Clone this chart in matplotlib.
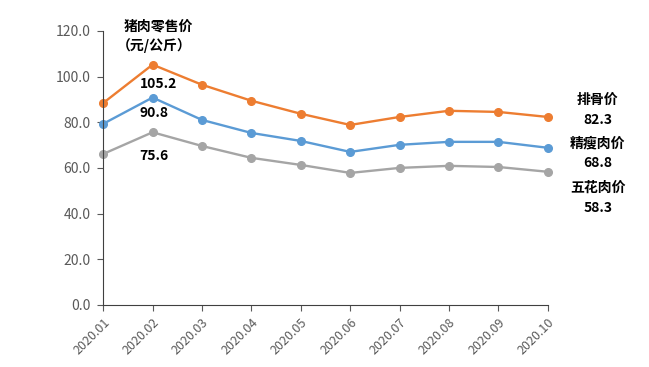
import matplotlib.pyplot as plt

plt.rcParams['font.family'] = ['Noto Sans CJK SC', 'DejaVu Sans']

months = ['2020.01', '2020.02', '2020.03', '2020.04', '2020.05',
          '2020.06', '2020.07', '2020.08', '2020.09', '2020.10']
paigu = [88.4, 105.2, 96.4, 89.4, 83.7, 78.8, 82.3, 85.0, 84.5, 82.3]
jingshou = [79.3, 90.8, 81.0, 75.3, 71.8, 67.0, 70.1, 71.4, 71.4, 68.8]
wuhua = [66.1, 75.6, 69.6, 64.4, 61.3, 57.8, 60.0, 60.9, 60.4, 58.3]

series = [('排骨价', paigu, '#ED7D31'),
          ('精瘦肉价', jingshou, '#5B9BD5'),
          ('五花肉价', wuhua, '#A5A5A5')]

fig = plt.figure(figsize=(6.49, 3.67), dpi=100)
ax = fig.add_axes([0.159, 0.169, 0.685, 0.747])

x = list(range(len(months)))
for name, vals, color in series:
    ax.plot(x, vals, color=color, lw=1.7, marker='o', ms=5.5, clip_on=False)

ax.set_xlim(0, len(months) - 1)
ax.set_ylim(0, 120)
ax.set_yticks(range(0, 121, 20))
ax.set_yticklabels(['%.1f' % v for v in range(0, 121, 20)])
ax.set_xticks(x)
ax.set_xticklabels(months, rotation=45, ha='right', rotation_mode='anchor')
ax.tick_params(colors='#595959', direction='out', length=4)
ax.tick_params(axis='y', labelsize=10, pad=5)
ax.tick_params(axis='x', labelsize=9, pad=4)
for s in ['top', 'right']:
    ax.spines[s].set_visible(False)
for s in ['left', 'bottom']:
    ax.spines[s].set_color('#404040')

kw = dict(textcoords='offset pixels', ha='center', va='center',
          fontsize=10, fontweight='bold', annotation_clip=False)

# peak labels (Feb)
ax.annotate('%.1f' % paigu[1], (1, paigu[1]), xytext=(6, -19), **kw)
ax.annotate('%.1f' % jingshou[1], (1, jingshou[1]), xytext=(1, -15), **kw)
ax.annotate('%.1f' % wuhua[1], (1, wuhua[1]), xytext=(1, -24), **kw)

# right side labels
last = len(months) - 1
ax.annotate('排骨价', (last, paigu[-1]), xytext=(50, 17), **kw)
ax.annotate('%.1f' % paigu[-1], (last, paigu[-1]), xytext=(50, -3), **kw)
ax.annotate('精瘦肉价', (last, jingshou[-1]), xytext=(50, 4), **kw)
ax.annotate('%.1f' % jingshou[-1], (last, jingshou[-1]), xytext=(50, -15), **kw)
ax.annotate('五花肉价', (last, wuhua[-1]), xytext=(50, -16), **kw)
ax.annotate('%.1f' % wuhua[-1], (last, wuhua[-1]), xytext=(50, -36), **kw)

fig.text(124 / 649, 1 - 27 / 367, '猪肉零售价', fontsize=10, fontweight='bold',
         ha='left', va='center')
fig.text(117 / 649, 1 - 46 / 367, '（元/公斤）', fontsize=10, fontweight='bold',
         ha='left', va='center')

fig.savefig('out.png', dpi=100)
